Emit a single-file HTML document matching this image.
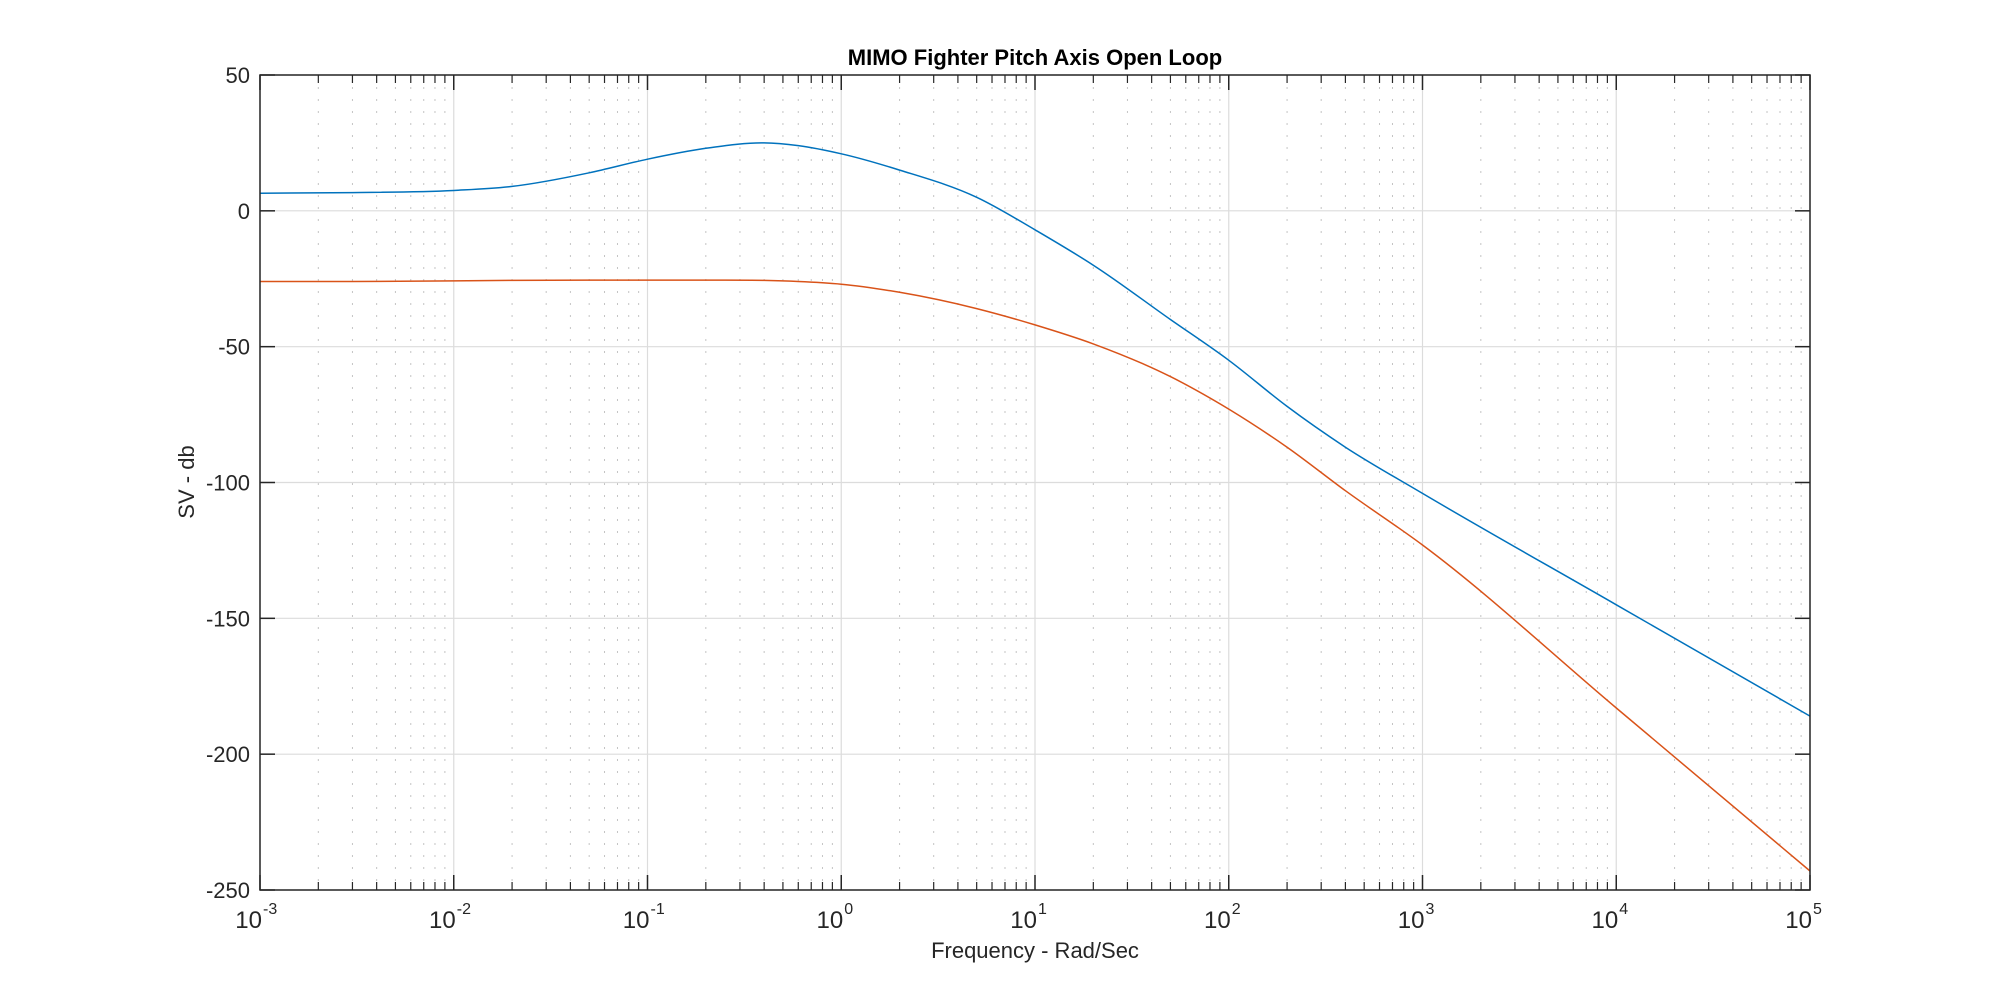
<!DOCTYPE html>
<html><head><meta charset="utf-8"><style>
html,body{margin:0;padding:0;background:#fff;}
svg{display:block;font-family:"Liberation Sans",Arial,sans-serif;}
</style></head><body>
<svg id="chart" width="2000" height="1000" xmlns="http://www.w3.org/2000/svg">
<rect width="2000" height="1000" fill="#fff"/>
<g id="grid"></g>
<g id="series"></g>
<g id="axes"></g>
<text x="1035" y="65" text-anchor="middle" font-size="22" font-weight="bold" fill="#000">MIMO Fighter Pitch Axis Open Loop</text>
<text x="1035" y="958" text-anchor="middle" font-size="22" fill="#262626">Frequency - Rad/Sec</text>
<text transform="translate(194,482) rotate(-90)" text-anchor="middle" font-size="22" fill="#262626">SV - db</text>
</svg>
<script>
const freqs = [1e-3,3e-3,1e-2,2e-2,5e-2,0.1,0.2,0.4,0.6,1,2,5,10,20,50,100,200,400,1000,1e4,1e5];
const blueDb = [6.5,6.7,7.5,9,14,19,23,25,24,21,15,5,-7,-20,-40,-55,-72,-87,-104,-145,-186];
const redDb = [-26,-26,-25.8,-25.6,-25.5,-25.5,-25.5,-25.6,-26,-27,-30,-36,-42,-49,-61,-73,-87,-103,-123,-183,-243];
const yTicks = [50,0,-50,-100,-150,-200,-250];
const xDecades = [-3,-2,-1,0,1,2,3,4,5];

const L=260,R=1810,T=75,B=890;
const xS = f => L + (Math.log10(f)+3)/8*(R-L);
const yS = v => T + (50-v)/300*(B-T);
const NS="http://www.w3.org/2000/svg";
function mk(tag,attrs,parent){const e=document.createElementNS(NS,tag);for(const k in attrs)e.setAttribute(k,attrs[k]);parent.appendChild(e);return e;}
const grid=document.getElementById('grid'),axes=document.getElementById('axes'),series=document.getElementById('series');

for(const d of xDecades){
  const x=xS(Math.pow(10,d));
  const g=mk('line',{x1:x,x2:x,y1:T,y2:B,stroke:'#dcdcdc','stroke-width':1.2},grid);
  
  
  mk('line',{x1:x,x2:x,y1:B,y2:B-15,stroke:'#262626','stroke-width':1.5},axes);
  mk('line',{x1:x,x2:x,y1:T,y2:T+15,stroke:'#262626','stroke-width':1.5},axes);
  const lbl=mk('text',{x:x+2,y:B+38,'text-anchor':'end','font-size':24,fill:'#262626'},axes);
  lbl.textContent='10';
  
  
  const sup=mk('text',{x:x+3,y:B+24,'font-size':16,fill:'#262626'},axes);
  sup.textContent=String(d);
  
  
  if(d<5){
    for(let m=2;m<=9;m++){
      const xm=xS(m*Math.pow(10,d));
      const gm=mk('line',{x1:xm,x2:xm,y1:T,y2:B,stroke:'#c4c4c4','stroke-width':1,'stroke-dasharray':'2,10'},grid);
      
      
      mk('line',{x1:xm,x2:xm,y1:B,y2:B-8,stroke:'#262626','stroke-width':1.2},axes);
      mk('line',{x1:xm,x2:xm,y1:T,y2:T+8,stroke:'#262626','stroke-width':1.2},axes);
    }
  }
}
for(const v of yTicks){
  const y=yS(v);
  const g=mk('line',{x1:L,x2:R,y1:y,y2:y,stroke:'#dcdcdc','stroke-width':1.2},grid);
  
  
  mk('line',{x1:L,x2:L+15,y1:y,y2:y,stroke:'#262626','stroke-width':1.5},axes);
  mk('line',{x1:R,x2:R-15,y1:y,y2:y,stroke:'#262626','stroke-width':1.5},axes);
  const lbl=mk('text',{x:L-10,y:y+8,'text-anchor':'end','font-size':22,fill:'#262626'},axes);
  lbl.textContent=String(v);
  
  
}
const box=mk('rect',{x:L,y:T,width:R-L,height:B-T,fill:'none',stroke:'#262626','stroke-width':1.5},axes);



function curve(vals,color,name){
  const P=freqs.map((f,i)=>[xS(f),yS(vals[i])]);
  const n=P.length;
  const dsec=[];
  for(let i=0;i<n-1;i++) dsec.push((P[i+1][1]-P[i][1])/(P[i+1][0]-P[i][0]));
  const m=P.map((p,i)=> i===0?dsec[0]: i===n-1?dsec[n-2]: (dsec[i-1]*(P[i+1][0]-P[i][0])+dsec[i]*(P[i][0]-P[i-1][0]))/(P[i+1][0]-P[i-1][0]));
  let d='M'+P[0][0].toFixed(1)+','+P[0][1].toFixed(1);
  for(let i=0;i<n-1;i++){
    const dx=(P[i+1][0]-P[i][0])/3;
    d+=' C'+(P[i][0]+dx).toFixed(1)+','+(P[i][1]+m[i]*dx).toFixed(1)+' '+(P[i+1][0]-dx).toFixed(1)+','+(P[i+1][1]-m[i+1]*dx).toFixed(1)+' '+P[i+1][0].toFixed(1)+','+P[i+1][1].toFixed(1);
  }
  const p=mk('path',{d:d,fill:'none',stroke:color,'stroke-width':1.5,'stroke-linejoin':'round'},series);
  
  
}
curve(blueDb,'#0072bd','sv-max-line');
curve(redDb,'#d95319','sv-min-line');
</script>
</body></html>
